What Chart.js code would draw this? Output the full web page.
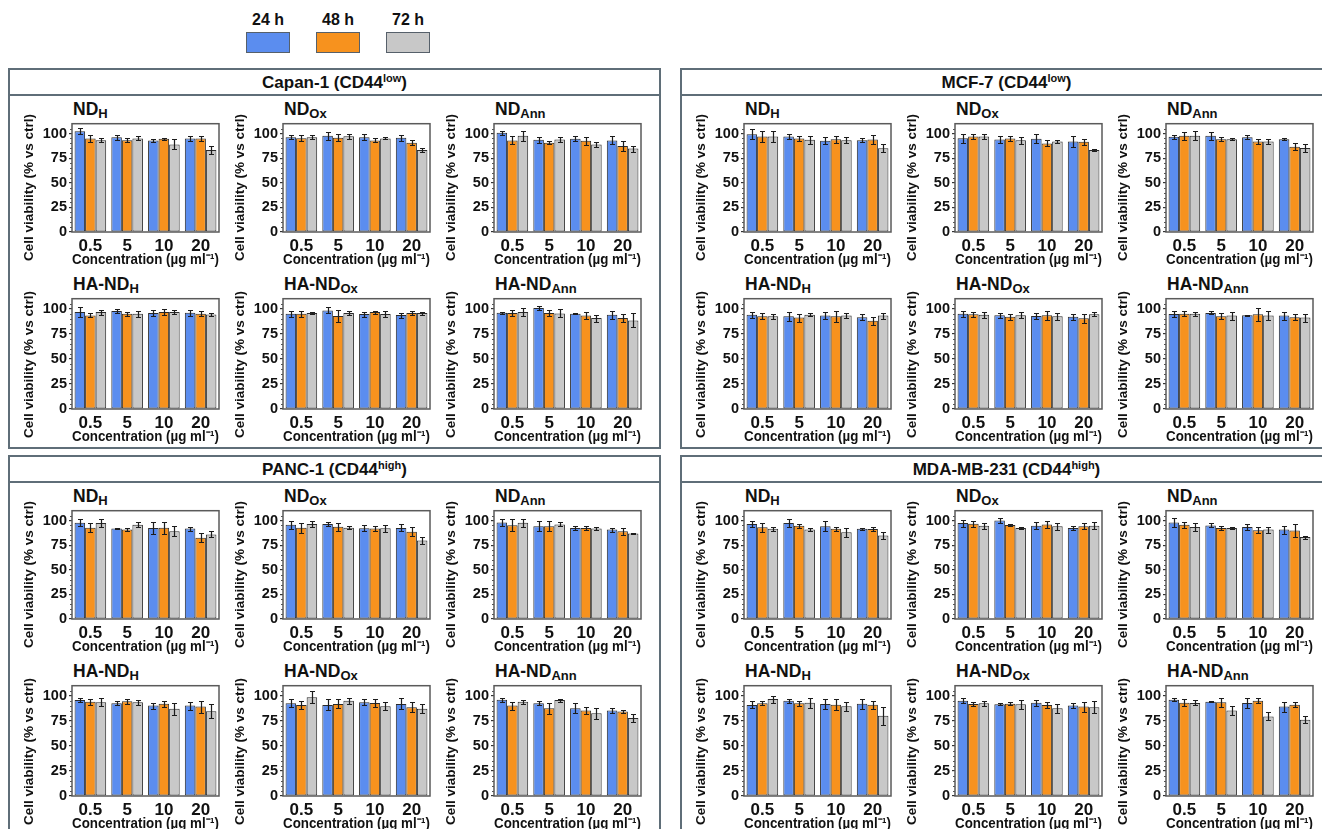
<!DOCTYPE html>
<html>
<head>
<meta charset="utf-8">
<script src="https://cdn.jsdelivr.net/npm/chart.js@4.4.1/dist/chart.umd.min.js"></script>
<style>
  html, body { margin: 0; padding: 0; background: #fff; }
  body { width: 1322px; height: 829px; position: relative; overflow: hidden;
         font-family: "Liberation Sans", Arial, sans-serif; color: #111; }
  .panel { position: absolute; box-sizing: border-box; border: 2px solid #5f6e78; }
  .panel .head { height: 24px; border-bottom: 2px solid #5f6e78; text-align: center;
                 font-weight: bold; font-size: 17px; line-height: 26px; white-space: nowrap; }
  .sup { font-size: 11px; position: relative; top: -6px; }
  .ptitle { position: absolute; font-weight: bold; font-size: 17.5px; line-height: 20px; white-space: nowrap; }
  .sub { font-size: 13px; position: relative; top: 3px; }
  .legLabel { position: absolute; width: 60px; text-align: center; font-weight: bold; font-size: 16px; line-height: 18px; }
  .legBox { position: absolute; box-sizing: border-box; width: 44px; height: 21px; border: 1px solid #56606a; }
  canvas { position: absolute; }
</style>
</head>
<body>
<script>
// ---- categories and tick labels ----
const CONC = ['0.5', '5', '10', '20'];
const TIMES = ['24 h', '48 h', '72 h'];
const Y_TICKS = [0, 25, 50, 75, 100];

// ---- cell viability (% vs ctrl): rows = 24 h, 48 h, 72 h; columns = CONC ----
// Capan-1
const capan_NDH_mean = [[102.3, 96.3, 93.0, 95.0], [95.0, 93.3, 94.7, 95.0], [93.3, 95.0, 89.0, 83.3]];
const capan_NDH_sd = [[3, 2.5, 1.5, 3], [4, 2, 1, 3], [2, 2, 5, 4]];
const capan_NDOx_mean = [[96.3, 97.7, 96.3, 95.7], [95.3, 95.7, 93.0, 90.7], [96.3, 97.3, 95.0, 83.3]];
const capan_NDOx_sd = [[2, 4, 3, 3], [3, 3.5, 2, 2.5], [2, 2.5, 1, 2]];
const capan_NDAnn_mean = [[100.7, 93.7, 94.7, 93.0], [93.0, 90.7, 92.7, 87.3], [97.7, 94.0, 89.0, 84.7]];
const capan_NDAnn_sd = [[2, 3, 2.5, 4], [4, 1.5, 4, 5], [5, 2.5, 2.5, 3]];
const capan_HANDH_mean = [[96.7, 97.7, 95.7, 96.0], [93.3, 95.0, 96.7, 95.0], [96.7, 95.0, 96.7, 94.3]];
const capan_HANDH_sd = [[5, 2, 3, 3], [2, 2, 3, 2.5], [2.5, 3, 2, 1.5]];
const capan_HANDOx_mean = [[95.0, 98.3, 94.7, 93.7], [95.0, 92.7, 96.7, 95.7], [95.7, 95.7, 94.7, 95.7]];
const capan_HANDOx_sd = [[3, 3, 2.5, 2.5], [3, 6, 1.5, 2], [1, 2, 3, 1.5]];
const capan_HANDAnn_mean = [[96.0, 100.7, 95.0, 94.0], [95.7, 95.7, 93.3, 90.7], [96.7, 95.3, 90.7, 88.3]];
const capan_HANDAnn_sd = [[1, 2, 0.7, 4], [3, 3, 3.5, 4], [4, 4, 3.5, 7]];
// MCF-7
const mcf_NDH_mean = [[99.3, 97.0, 92.7, 93.3], [97.0, 95.0, 94.3, 94.0], [97.0, 93.7, 93.3, 85.0]];
const mcf_NDH_sd = [[5, 2.5, 3.5, 2], [6, 2.5, 3.5, 4.5], [6, 4, 3, 4]];
const mcf_NDOx_mean = [[95.3, 94.0, 94.7, 92.0], [97.0, 95.0, 90.0, 91.7], [97.0, 93.3, 92.0, 83.3]];
const mcf_NDOx_sd = [[4.5, 4, 4.5, 6], [2.5, 2.5, 3, 3], [3, 3.5, 1.5, 1.5]];
const mcf_NDAnn_mean = [[96.7, 97.7, 96.3, 94.3], [97.7, 94.3, 92.0, 86.7], [97.7, 94.3, 92.0, 85.3]];
const mcf_NDAnn_sd = [[2, 4, 2, 0.8], [4, 2, 2.5, 3.5], [4.5, 0.8, 2.5, 4]];
const mcf_HANDH_mean = [[94.1, 92.5, 93.2, 91.5], [92.5, 91.2, 92.5, 88.0], [92.5, 94.1, 93.2, 93.2]];
const mcf_HANDH_sd = [[3, 4.5, 3.5, 3], [3, 4, 5.5, 4], [2.5, 1.5, 2.5, 3]];
const mcf_HANDOx_mean = [[95.1, 93.5, 92.8, 91.9], [94.5, 91.9, 93.5, 90.5], [94.1, 93.5, 92.5, 94.5]];
const mcf_HANDOx_sd = [[3, 2.5, 3, 3], [2.5, 3, 4.5, 4.5], [3, 3, 3.5, 2]];
const mcf_HANDAnn_mean = [[94.8, 95.8, 93.5, 93.2], [95.1, 92.5, 94.5, 91.5], [95.1, 93.2, 93.2, 91.2]];
const mcf_HANDAnn_sd = [[3, 1.5, 0.7, 4], [2.5, 3, 6.5, 3], [2, 4, 4.5, 4]];
// PANC-1
const panc_NDH_mean = [[97.7, 91.8, 92.5, 91.8], [92.8, 90.8, 92.8, 82.6], [97.4, 95.7, 89.2, 85.9]];
const panc_NDH_sd = [[3.5, 0.8, 6, 2], [4.5, 1.5, 6, 4.5], [4, 2.5, 5, 3]];
const panc_NDOx_mean = [[95.7, 96.4, 92.1, 92.5], [92.8, 93.8, 91.8, 88.5], [96.4, 92.8, 92.1, 79.7]];
const panc_NDOx_sd = [[4, 2, 3, 3.5], [5, 4, 2.5, 4.5], [3, 1.5, 3.5, 3.5]];
const panc_NDAnn_mean = [[98.0, 94.1, 92.5, 90.8], [95.1, 94.1, 92.5, 89.2], [97.7, 96.1, 91.8, 86.9]];
const panc_NDAnn_sd = [[4, 5, 2, 2], [6, 5, 2, 3.5], [4, 2, 1.5, 0.8]];
const panc_HANDH_mean = [[95.7, 92.5, 90.2, 90.2], [94.1, 94.4, 92.1, 89.2], [93.4, 93.4, 86.9, 84.6]];
const panc_HANDH_sd = [[2, 2, 3, 4], [3, 2.5, 3, 6], [4, 2.5, 6, 7]];
const panc_HANDOx_mean = [[92.5, 90.8, 93.4, 91.8], [90.8, 91.8, 92.8, 88.5], [98.4, 95.1, 89.5, 86.9]];
const panc_HANDOx_sd = [[4, 5.5, 3, 5.5], [4, 4.5, 4, 5], [6, 3, 4, 4.5]];
const panc_HANDAnn_mean = [[96.1, 92.5, 87.5, 85.2], [90.2, 87.5, 85.2, 84.3], [94.1, 95.7, 82.6, 77.7]];
const panc_HANDAnn_sd = [[2, 2, 5, 2.5], [4, 5.5, 3.5, 1.5], [2, 1.5, 5.5, 4]];
// MDA-MB-231
const mda_NDH_mean = [[96.4, 97.4, 94.1, 91.7], [93.1, 94.7, 91.7, 91.4], [91.7, 90.8, 88.1, 84.8]];
const mda_NDH_sd = [[3, 4, 5, 0.8], [4.5, 2, 2, 2.5], [2, 1.5, 4.5, 3.5]];
const mda_NDOx_mean = [[97.4, 100.0, 94.7, 92.4], [96.7, 95.4, 96.0, 94.1], [94.7, 92.4, 94.1, 94.7]];
const mda_NDOx_sd = [[3.5, 2.5, 3.5, 2], [3, 1, 3.5, 3], [3, 1, 3.5, 3.5]];
const mda_NDAnn_mean = [[98.0, 95.0, 93.4, 90.8], [95.7, 92.4, 90.1, 89.8], [93.4, 92.4, 90.8, 83.2]];
const mda_NDAnn_sd = [[4.5, 2, 3.5, 4], [3, 2.5, 3, 7], [4, 1, 3, 1.5]];
const mda_HANDH_mean = [[90.8, 95.1, 91.8, 92.1], [92.5, 92.5, 91.1, 91.1], [96.7, 93.1, 89.5, 80.0]];
const mda_HANDH_sd = [[3.5, 2, 5, 5], [2, 2.5, 5.5, 4], [3.5, 5, 4.5, 9]];
const mda_HANDOx_mean = [[95.1, 91.5, 93.1, 90.2], [91.8, 92.1, 90.8, 89.2], [92.5, 91.5, 87.5, 88.5]];
const mda_HANDOx_sd = [[2.5, 1, 3, 2.5], [2, 1.5, 3, 5], [2.5, 4.5, 4.5, 6]];
const mda_HANDAnn_mean = [[96.1, 94.1, 92.8, 89.2], [93.1, 93.4, 95.1, 91.1], [92.8, 85.2, 79.3, 76.1]];
const mda_HANDAnn_sd = [[1.5, 0.7, 5, 5], [3.5, 4.5, 2.5, 2.5], [2.5, 4.5, 4, 3.5]];

// ---- panel contents (cell line, CD44 level, subplot data in reading order) ----
const PANELS = [
  { name: 'Capan-1', cd44: 'low', plots: [
    ['ND', 'H', capan_NDH_mean, capan_NDH_sd], ['ND', 'Ox', capan_NDOx_mean, capan_NDOx_sd], ['ND', 'Ann', capan_NDAnn_mean, capan_NDAnn_sd],
    ['HA-ND', 'H', capan_HANDH_mean, capan_HANDH_sd], ['HA-ND', 'Ox', capan_HANDOx_mean, capan_HANDOx_sd], ['HA-ND', 'Ann', capan_HANDAnn_mean, capan_HANDAnn_sd]] },
  { name: 'MCF-7', cd44: 'low', plots: [
    ['ND', 'H', mcf_NDH_mean, mcf_NDH_sd], ['ND', 'Ox', mcf_NDOx_mean, mcf_NDOx_sd], ['ND', 'Ann', mcf_NDAnn_mean, mcf_NDAnn_sd],
    ['HA-ND', 'H', mcf_HANDH_mean, mcf_HANDH_sd], ['HA-ND', 'Ox', mcf_HANDOx_mean, mcf_HANDOx_sd], ['HA-ND', 'Ann', mcf_HANDAnn_mean, mcf_HANDAnn_sd]] },
  { name: 'PANC-1', cd44: 'high', plots: [
    ['ND', 'H', panc_NDH_mean, panc_NDH_sd], ['ND', 'Ox', panc_NDOx_mean, panc_NDOx_sd], ['ND', 'Ann', panc_NDAnn_mean, panc_NDAnn_sd],
    ['HA-ND', 'H', panc_HANDH_mean, panc_HANDH_sd], ['HA-ND', 'Ox', panc_HANDOx_mean, panc_HANDOx_sd], ['HA-ND', 'Ann', panc_HANDAnn_mean, panc_HANDAnn_sd]] },
  { name: 'MDA-MB-231', cd44: 'high', plots: [
    ['ND', 'H', mda_NDH_mean, mda_NDH_sd], ['ND', 'Ox', mda_NDOx_mean, mda_NDOx_sd], ['ND', 'Ann', mda_NDAnn_mean, mda_NDAnn_sd],
    ['HA-ND', 'H', mda_HANDH_mean, mda_HANDH_sd], ['HA-ND', 'Ox', mda_HANDOx_mean, mda_HANDOx_sd], ['HA-ND', 'Ann', mda_HANDAnn_mean, mda_HANDAnn_sd]] }
];

// ---- styling and geometry ----
const FILL = ['#5b8def', '#f7921e', '#c8c8c8'];
const FONT = '"Liberation Sans", Arial, sans-serif';
const PANEL_X = [8, 680], PANEL_Y = [68, 455], PANEL_W = 653, PANEL_H = 381;
const COL_X = [64, 275, 486], PLOT_W = 147;
const ROW_TOP = [53, 228], ROW_BOTTOM = [164, 341];
const Y_AXIS_W = 51, X_AXIS_H = 37, PAD = { top: 8, right: 9, bottom: 2, left: 0 };

// Legend
TIMES.forEach((t, i) => {
  const x = 246 + i * 70;
  const lab = document.createElement('div');
  lab.className = 'legLabel';
  lab.style.left = (x - 8) + 'px'; lab.style.top = '11px';
  lab.textContent = t;
  document.body.appendChild(lab);
  const box = document.createElement('div');
  box.className = 'legBox';
  box.style.left = x + 'px'; box.style.top = '32px';
  box.style.background = FILL[i];
  document.body.appendChild(box);
});

// Plot frame, minor y ticks, error bars and rotated y title
const decorations = {
  id: 'decorations',
  afterDatasetsDraw(chart) {
    const ctx = chart.ctx, y = chart.scales.y;
    ctx.save();
    ctx.strokeStyle = '#1c1c1c';
    ctx.lineWidth = 1.2;
    chart.data.datasets.forEach((ds, i) => {
      chart.getDatasetMeta(i).data.forEach((bar, j) => {
        const v = ds.data[j], e = ds.errors[j];
        const yt = Math.round(y.getPixelForValue(v + e)) + 0.5;
        const yb = Math.round(y.getPixelForValue(v - e)) + 0.5;
        const x = Math.round(bar.x) + 0.5;
        ctx.beginPath();
        ctx.moveTo(x, yt); ctx.lineTo(x, yb);
        ctx.moveTo(x - 2.5, yt); ctx.lineTo(x + 2.5, yt);
        ctx.moveTo(x - 2.5, yb); ctx.lineTo(x + 2.5, yb);
        ctx.stroke();
      });
    });
    ctx.restore();
  },
  afterDraw(chart) {
    const ctx = chart.ctx, a = chart.chartArea, y = chart.scales.y;
    ctx.save();
    // minor ticks every 5 units
    ctx.strokeStyle = '#555';
    ctx.lineWidth = 1;
    ctx.beginPath();
    for (let v = 5; v < 110; v += 5) {
      if (v % 25 === 0) continue;
      const py = Math.round(y.getPixelForValue(v)) + 0.5;
      ctx.moveTo(a.left - 2, py); ctx.lineTo(a.left, py);
    }
    ctx.stroke();
    // box around the plotting area
    ctx.strokeStyle = '#5a5a5a';
    ctx.lineWidth = 1.5;
    ctx.strokeRect(a.left, a.top, a.right - a.left, a.bottom - a.top);
    // y axis title
    ctx.translate(a.left - 42.5, a.bottom - 44.5);
    ctx.rotate(-Math.PI / 2);
    ctx.fillStyle = '#111';
    ctx.font = 'bold 13.5px ' + FONT;
    ctx.textAlign = 'center';
    ctx.textBaseline = 'middle';
    ctx.fillText('Cell viability (% vs ctrl)', 0, 0);
    ctx.restore();
  }
};

function makeChart(canvas, mean, sd) {
  return new Chart(canvas, {
    type: 'bar',
    data: {
      labels: CONC,
      datasets: TIMES.map((t, i) => ({
        label: t, data: mean[i], errors: sd[i],
        backgroundColor: FILL[i], borderColor: '#2a2a2a', borderWidth: 1, borderSkipped: false,
        barPercentage: 1, categoryPercentage: 0.86
      }))
    },
    options: {
      responsive: false, animation: false, events: [],
      layout: { padding: PAD },
      plugins: { legend: { display: false }, tooltip: { enabled: false } },
      scales: {
        x: {
          grid: { display: false, drawTicks: false }, border: { display: false },
          ticks: { font: { family: FONT, weight: 'bold', size: 17 }, color: '#111', padding: 4, maxRotation: 0, autoSkip: false },
          title: { display: true, text: 'Concentration (µg ml⁻¹)', font: { family: FONT, weight: 'bold', size: 15 }, color: '#111', padding: 0 },
          afterFit(s) { s.height = X_AXIS_H; }
        },
        y: {
          min: 0, max: 110,
          afterBuildTicks(s) { s.ticks = Y_TICKS.map(v => ({ value: v })); },
          grid: { drawOnChartArea: false, drawTicks: true, tickLength: 3, color: '#333', lineWidth: 1.2 },
          border: { display: false },
          ticks: { font: { family: FONT, weight: 'bold', size: 14.5 }, color: '#111', padding: 2 },
          afterFit(s) { s.width = Y_AXIS_W; }
        }
      }
    },
    plugins: [decorations]
  });
}

PANELS.forEach((p, pi) => {
  const px = PANEL_X[pi % 2], py = PANEL_Y[Math.floor(pi / 2)];
  const panel = document.createElement('div');
  panel.className = 'panel';
  panel.style.left = px + 'px'; panel.style.top = py + 'px';
  panel.style.width = PANEL_W + 'px'; panel.style.height = PANEL_H + 'px';
  panel.innerHTML = '<div class="head">' + p.name + ' (CD44<span class="sup">' + p.cd44 + '</span>)</div>';
  document.body.appendChild(panel);

  p.plots.forEach((pl, k) => {
    const col = k % 3, row = Math.floor(k / 3);
    const plotLeft = px + COL_X[col];
    const plotTop = py + ROW_TOP[row];
    const plotH = ROW_BOTTOM[row] - ROW_TOP[row];

    const t = document.createElement('div');
    t.className = 'ptitle';
    t.style.left = (plotLeft + 1) + 'px';
    t.style.top = (plotTop - 22) + 'px';
    t.innerHTML = pl[0] + '<span class="sub">' + pl[1] + '</span>';
    document.body.appendChild(t);

    const c = document.createElement('canvas');
    const w = Y_AXIS_W + PLOT_W + PAD.right;
    const h = PAD.top + plotH + X_AXIS_H + PAD.bottom;
    c.width = w; c.height = h;
    c.style.left = (plotLeft - Y_AXIS_W) + 'px';
    c.style.top = (plotTop - PAD.top) + 'px';
    c.style.width = w + 'px'; c.style.height = h + 'px';
    document.body.appendChild(c);
    makeChart(c, pl[2], pl[3]);
  });
});
</script>
</body>
</html>
